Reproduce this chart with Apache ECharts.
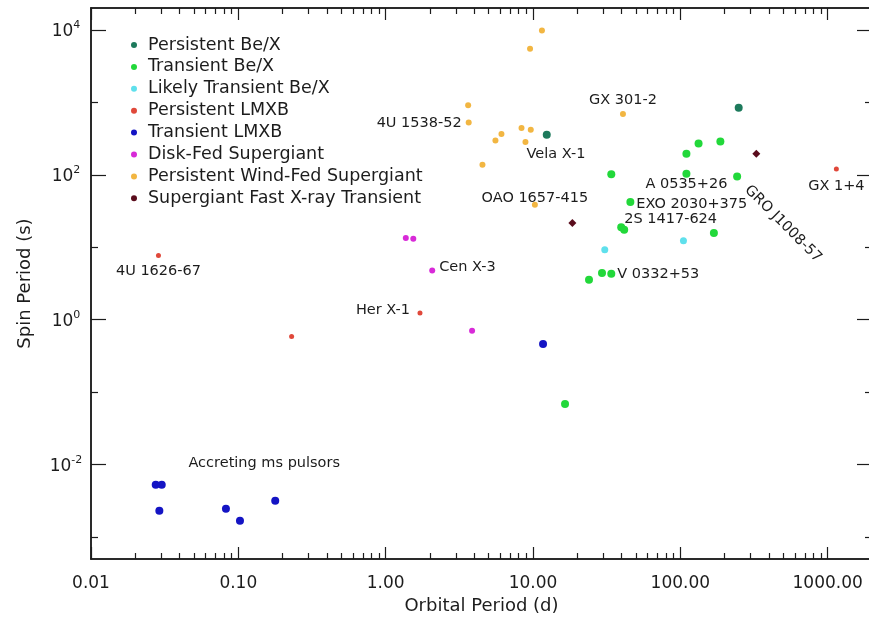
<!DOCTYPE html>
<html>
<head>
<meta charset="utf-8">
<script src="https://cdn.jsdelivr.net/npm/echarts@6/dist/echarts.min.js"></script>
<style>
  html, body { margin: 0; padding: 0; background: #ffffff; }
  #chart { width: 869px; height: 617px; }
</style>
</head>
<body>
<div id="chart"></div>
<script>
// Orbital period (days) and spin period (seconds) for each class of accreting pulsar.
const persistentBeXOrbit = [12.4, 249];
const persistentBeXSpin  = [357, 839];
const persistentBeXNames = ['', ''];

const transientBeXOrbit = [34.0, 110, 133, 187, 110, 45.8, 39.7, 41.6, 169, 29.4, 34.0, 24.0, 16.5, 243];
const transientBeXSpin  = [102, 195, 270, 288, 103, 42, 18.9, 17.4, 15.7, 4.4, 4.3, 3.57, 0.069, 94.9];
const transientBeXNames = ['', '', '', '', 'A 0535+26', 'EXO 2030+375', '2S 1417-624', '', '', '', 'V 0332+53', '', '', 'GRO J1008-57'];

const likelyBeXOrbit = [30.7, 105];
const likelyBeXSpin  = [9.25, 12.3];
const likelyBeXNames = ['', ''];

const persistentLmxbOrbit = [0.0287, 0.230, 1.71, 1146];
const persistentLmxbSpin  = [7.7, 0.589, 1.24, 120];
const persistentLmxbNames = ['4U 1626-67', '', 'Her X-1', 'GX 1+4'];

const transientLmxbOrbit = [0.0275, 0.0302, 0.0291, 0.0824, 0.1026, 0.178, 11.7];
const transientLmxbSpin  = [0.0053, 0.0053, 0.00232, 0.00247, 0.00169, 0.00318, 0.462];
const transientLmxbNames = ['', '', '', '', '', 'Accreting ms pulsors', ''];

const diskFedOrbit = [1.37, 1.54, 2.07, 3.86];
const diskFedSpin  = [13.4, 13.1, 4.79, 0.705];
const diskFedNames = ['', '', 'Cen X-3', ''];

const windFedOrbit = [11.5, 9.55, 3.63, 3.66, 6.11, 5.56, 8.36, 9.66, 8.89, 4.54, 10.3, 40.8];
const windFedSpin  = [9780, 5470, 914, 526, 364, 297, 441, 418, 283, 137, 38.5, 687];
const windFedNames = ['', '', '', '4U 1538-52', '', '', '', '', 'Vela X-1', '', 'OAO 1657-415', 'GX 301-2'];

const sfxtOrbit = [18.5, 328];
const sfxtSpin  = [21.6, 195];
const sfxtNames = ['', ''];

// Axis ticks
const xMajorTicks = [0.01, 0.1, 1, 10, 100, 1000];
const xMinorTicks = [0.02, 0.03, 0.04, 0.05, 0.06, 0.07, 0.08, 0.09,
                     0.2, 0.3, 0.4, 0.5, 0.6, 0.7, 0.8, 0.9,
                     2, 3, 4, 5, 6, 7, 8, 9,
                     20, 30, 40, 50, 60, 70, 80, 90,
                     200, 300, 400, 500, 600, 700, 800, 900];
const yMajorTicks = [0.01, 1, 100, 10000];
const yMinorTicks = [0.001, 0.1, 10, 1000];

const FONT = 'DejaVu Sans';
const INK = '#1c1c1c';

// Where each source name sits relative to its marker: [dx, dy, align, rotate]
const namePlacement = {
  '4U 1626-67':           [0, 16, 'center', 0],
  '4U 1538-52':           [-7, 1, 'right', 0],
  'Vela X-1':             [1, 12, 'left', 0],
  'OAO 1657-415':         [0, -7, 'center', 0],
  'GX 301-2':             [0, -14, 'center', 0],
  'Cen X-3':              [7, -3, 'left', 0],
  'Her X-1':              [-10, -3, 'right', 0],
  'V 0332+53':            [6, 0, 'left', 0],
  'EXO 2030+375':         [6, 2, 'left', 0],
  '2S 1417-624':          [3, -8, 'left', 0],
  'A 0535+26':            [0, 10, 'center', 0],
  'GRO J1008-57':         [15, 1, 'left', -45],
  'GX 1+4':               [0, 17, 'center', 0],
  'Accreting ms pulsors': [-11, -38, 'center', 0]
};

function buildPoints(orbit, spin, names) {
  return orbit.map(function (x, i) {
    const item = { value: [x, spin[i]] };
    const nm = names[i];
    if (nm) {
      const p = namePlacement[nm];
      item.name = nm;
      item.label = {
        show: true,
        position: 'inside',
        formatter: nm,
        align: p[2],
        verticalAlign: 'middle',
        offset: [p[0], p[1]],
        rotate: p[3],
        color: INK,
        fontFamily: FONT,
        fontSize: 14.5,
        textBorderWidth: 0
      };
    }
    return item;
  });
}

function scatter(name, color, symbol, size, orbit, spin, names) {
  return {
    name: name,
    type: 'scatter',
    symbol: symbol,
    symbolSize: size,
    itemStyle: { color: color, opacity: 1 },
    label: { show: false },
    emphasis: { disabled: true },
    data: buildPoints(orbit, spin, names)
  };
}

const axisLineStyle = { color: INK, width: 1.5 };

function xAxis(position, ticks, len, labelled) {
  return {
    type: 'log', logBase: 10, min: 0.01, max: 2000, position: position,
    axisLine: { show: true, onZero: false, lineStyle: axisLineStyle },
    axisTick: { show: true, inside: true, length: len, customValues: ticks, lineStyle: { color: INK, width: 1.2 } },
    axisLabel: labelled ? {
      show: true, customValues: xMajorTicks, margin: 16,
      fontFamily: FONT, fontSize: 17, color: INK,
      formatter: function (v) { return v.toFixed(2); }
    } : { show: false },
    splitLine: { show: false },
    minorTick: { show: false },
    name: labelled ? 'Orbital Period (d)' : '',
    nameLocation: 'middle', nameGap: 36,
    nameTextStyle: { fontFamily: FONT, fontSize: 18, color: INK }
  };
}

function yAxis(position, ticks, len, labelled) {
  return {
    type: 'log', logBase: 10, min: 0.0005, max: 20000, position: position,
    // the right-hand frame edge lies just past the canvas, only its ticks show
    axisLine: { show: position === 'left', onZero: false, lineStyle: axisLineStyle },
    axisTick: { show: true, inside: true, length: len, customValues: ticks, lineStyle: { color: INK, width: 1.2 } },
    axisLabel: labelled ? {
      show: true, customValues: yMajorTicks, margin: 25, align: 'center',
      formatter: function (v) { return '{b|10}{s|' + Math.round(Math.log10(v)) + '}'; },
      rich: {
        b: { fontFamily: FONT, fontSize: 17, color: INK, verticalAlign: 'bottom', lineHeight: 20 },
        s: { fontFamily: FONT, fontSize: 11, color: INK, verticalAlign: 'top', lineHeight: 12 }
      }
    } : { show: false },
    splitLine: { show: false },
    minorTick: { show: false },
    name: labelled ? 'Spin Period (s)' : '',
    nameLocation: 'middle', nameGap: 57,
    nameTextStyle: { fontFamily: FONT, fontSize: 18, color: INK }
  };
}

const chart = echarts.init(document.getElementById('chart'), null, { renderer: 'canvas' });

chart.setOption({
  animation: false,
  backgroundColor: '#ffffff',
  grid: { left: 91, right: -3, top: 8, bottom: 58, containLabel: false, outerBoundsMode: 'none' },
  legend: {
    orient: 'vertical', left: 126, top: 31,
    itemGap: 3.9, itemWidth: 18, itemHeight: 6, icon: 'circle',
    textStyle: { fontFamily: FONT, fontSize: 17.5, color: INK },
    data: ['Persistent Be/X', 'Transient Be/X', 'Likely Transient Be/X', 'Persistent LMXB',
           'Transient LMXB', 'Disk-Fed Supergiant', 'Persistent Wind-Fed Supergiant',
           'Supergiant Fast X-ray Transient']
  },
  xAxis: [
    xAxis('bottom', xMajorTicks, 12, true),
    xAxis('bottom', xMinorTicks, 6, false),
    xAxis('top', xMajorTicks, 12, false),
    xAxis('top', xMinorTicks, 6, false)
  ],
  yAxis: [
    yAxis('left', yMajorTicks, 15, true),
    yAxis('left', yMinorTicks, 7, false),
    yAxis('right', yMajorTicks, 15, false),
    yAxis('right', yMinorTicks, 7, false)
  ],
  series: [
    scatter('Persistent Be/X', '#1d7a5c', 'circle', 8, persistentBeXOrbit, persistentBeXSpin, persistentBeXNames),
    scatter('Transient Be/X', '#22d83a', 'circle', 8, transientBeXOrbit, transientBeXSpin, transientBeXNames),
    scatter('Likely Transient Be/X', '#5fe0ec', 'circle', 7, likelyBeXOrbit, likelyBeXSpin, likelyBeXNames),
    scatter('Persistent LMXB', '#e0483a', 'circle', 5, persistentLmxbOrbit, persistentLmxbSpin, persistentLmxbNames),
    scatter('Transient LMXB', '#1414c4', 'circle', 8, transientLmxbOrbit, transientLmxbSpin, transientLmxbNames),
    scatter('Disk-Fed Supergiant', '#d82ad8', 'circle', 6, diskFedOrbit, diskFedSpin, diskFedNames),
    scatter('Persistent Wind-Fed Supergiant', '#f2b642', 'circle', 6, windFedOrbit, windFedSpin, windFedNames),
    scatter('Supergiant Fast X-ray Transient', '#5a0c1c', 'diamond', 8, sfxtOrbit, sfxtSpin, sfxtNames)
  ]
});
</script>
</body>
</html>
